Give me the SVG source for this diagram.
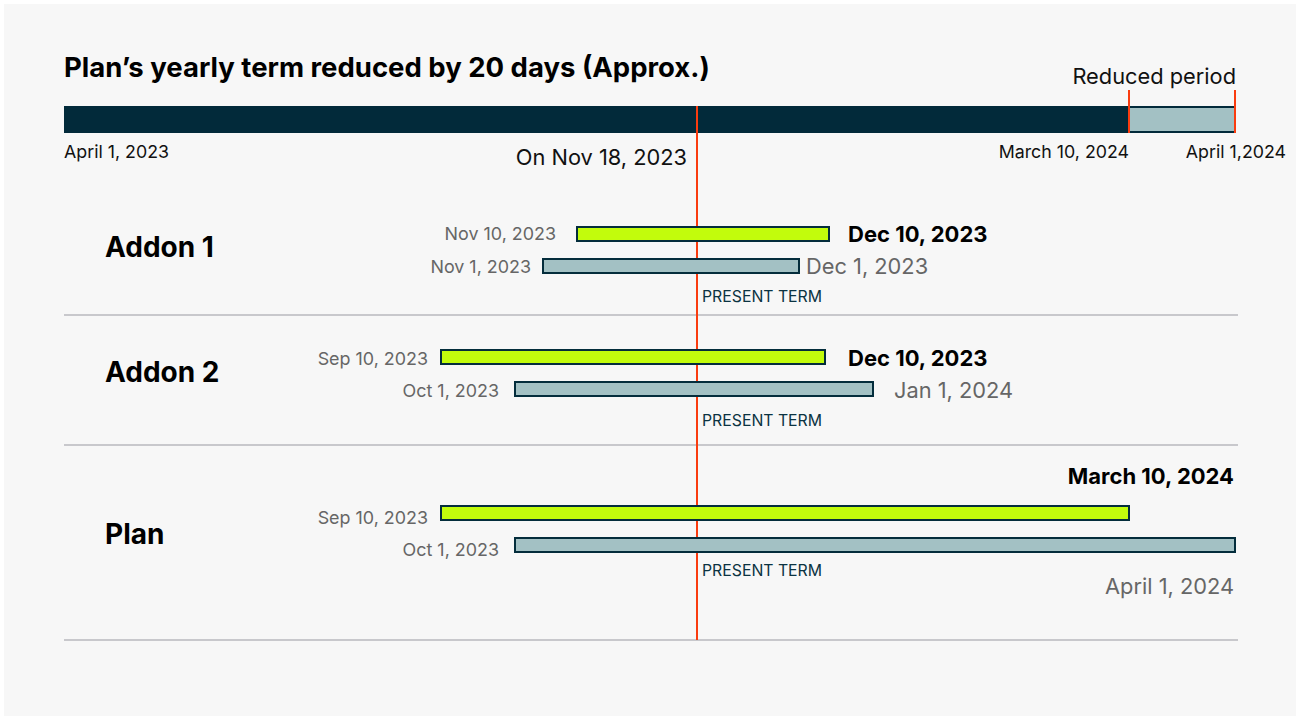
<svg xmlns="http://www.w3.org/2000/svg" width="1300" height="720" viewBox="0 0 1300 720">
<style>
text{font-family:Inter,"Liberation Sans",sans-serif}
.title{font-size:27.5px;font-weight:700;fill:#000}
.row{font-size:28px;font-weight:700;fill:#000}
.sm{font-size:17.8px;fill:#111}
.md{font-size:21.8px;fill:#111}
.start{font-size:17.9px;fill:#666}
.endb{font-size:22px;font-weight:700;fill:#000}
.endg{font-size:21.8px;fill:#666}
.pt{font-size:15.8px;fill:#0b3342}
.green{fill:#c2fc0c;stroke:#042d3c;stroke-width:2}
.blue{fill:#a3c1c4;stroke:#042d3c;stroke-width:2}
.sep{stroke:#c8c8cc;stroke-width:2}
.red{stroke:#fa3c0f;stroke-width:2}
</style>
<rect x="0" y="0" width="1300" height="720" fill="#ffffff"/>
<rect x="4" y="4" width="1292" height="712" fill="#f7f7f7"/>
<g id="header">
<text class="title" x="64" y="77">Plan’s yearly term reduced by 20 days (Approx.)</text>
<rect x="64" y="106" width="1065" height="27" fill="#022a3a"/>
<rect x="1129" y="107" width="106" height="25" fill="#a3c1c4" stroke="#022a3a" stroke-width="2"/>
<line class="red" x1="1129" y1="90" x2="1129" y2="133"/>
<line class="red" x1="1235" y1="90" x2="1235" y2="133"/>
<text class="md" x="1236" y="84" text-anchor="end">Reduced period</text>
<text class="sm" x="64" y="158">April 1, 2023</text>
<text class="md" x="687" y="165" text-anchor="end">On Nov 18, 2023</text>
<text class="sm" x="1129" y="158" text-anchor="end">March 10, 2024</text>
<text class="sm" x="1286" y="158" text-anchor="end">April 1,2024</text>
</g>
<g id="connectors">
<line class="sep" x1="64" y1="315" x2="1238" y2="315"/>
<line class="sep" x1="64" y1="445" x2="1238" y2="445"/>
<line class="sep" x1="64" y1="640" x2="1238" y2="640"/>
<line class="red" x1="697" y1="106" x2="697" y2="640"/>
</g>
<g id="addon1">
<text class="row" x="105" y="257">Addon 1</text>
<rect class="green" x="577" y="227" width="252" height="14"/>
<rect class="blue" x="543" y="259" width="256" height="14"/>
<text class="start" x="556" y="240" text-anchor="end">Nov 10, 2023</text>
<text class="start" x="531" y="273" text-anchor="end">Nov 1, 2023</text>
<text class="endb" x="848" y="242">Dec 10, 2023</text>
<text class="endg" x="806" y="274">Dec 1, 2023</text>
<text class="pt" x="702" y="302">PRESENT TERM</text>
</g>
<g id="addon2">
<text class="row" x="105" y="382">Addon 2</text>
<rect class="green" x="441" y="350" width="384" height="14"/>
<rect class="blue" x="515" y="382" width="358" height="14"/>
<text class="start" x="428" y="365" text-anchor="end">Sep 10, 2023</text>
<text class="start" x="499" y="397" text-anchor="end">Oct 1, 2023</text>
<text class="endb" x="848" y="366">Dec 10, 2023</text>
<text class="endg" x="894" y="398">Jan 1, 2024</text>
<text class="pt" x="702" y="426">PRESENT TERM</text>
</g>
<g id="plan">
<text class="row" x="105" y="544">Plan</text>
<rect class="green" x="441" y="506" width="688" height="14"/>
<rect class="blue" x="515" y="538" width="720" height="14"/>
<text class="start" x="428" y="524" text-anchor="end">Sep 10, 2023</text>
<text class="start" x="499" y="556" text-anchor="end">Oct 1, 2023</text>
<text class="endb" x="1234" y="484" text-anchor="end">March 10, 2024</text>
<text class="endg" x="1234" y="594" text-anchor="end">April 1, 2024</text>
<text class="pt" x="702" y="576">PRESENT TERM</text>
</g>
</svg>
